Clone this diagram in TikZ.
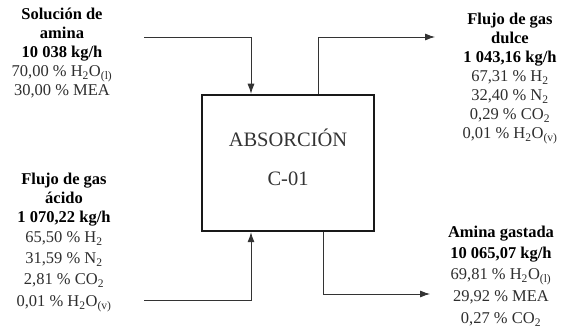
\documentclass[tikz,border=0pt]{standalone}
\usepackage{fontspec}
\setmainfont{Liberation Serif}
\usetikzlibrary{arrows.meta}

\begin{document}
\begin{tikzpicture}[
    x=1pt, y=-1pt,
    unit/.style={draw=black!90, line width=2.5pt, minimum width=172pt, minimum height=136pt,
      inner sep=0pt, align=center, text=black!80, font=\fontsize{20.5}{39}\selectfont},
    stream/.style={align=center, inner sep=0pt, anchor=north, text=black!82,
      font=\fontsize{16.5}{19}\selectfont},
    flow/.style={draw=black!80, line width=0.8pt, -{Latex[length=10pt, width=7pt]}},
  ]
  \useasboundingbox (0,0) rectangle (573,331);

  % --- Absorber ---
  \node[unit, text depth=12pt] (c01) at (288,163) {ABSORCI\'ON\\C-01};

  % --- Streams in ---
  \node[stream] (amina) at (62,8) {\textcolor{black}{\textbf{Soluci\'on de}}\\
    \textcolor{black}{\textbf{amina}}\\
    \textcolor{black}{\textbf{10 038 kg/h}}\\
    70,00 \% H\textsubscript{2}O\textsubscript{(l)}\\
    30,00 \% MEA};
  \node[stream] (acido) at (64,173) {\textcolor{black}{\textbf{Flujo de gas}}\\
    \textcolor{black}{\textbf{\'acido}}\\
    \textcolor{black}{\textbf{1 070,22 kg/h}}\\[1pt]
    65,50 \% H\textsubscript{2}\\[2pt]
    31,59 \% N\textsubscript{2}\\[2pt]
    2,81 \% CO\textsubscript{2}\\[3pt]
    0,01 \% H\textsubscript{2}O\textsubscript{(v)}};

  % --- Streams out ---
  \node[stream] (dulce) at (510,13) {\textcolor{black}{\textbf{Flujo de gas}}\\
    \textcolor{black}{\textbf{dulce}}\\
    \textcolor{black}{\textbf{1 043,16 kg/h}}\\
    67,31 \% H\textsubscript{2}\\
    32,40 \% N\textsubscript{2}\\
    0,29 \% CO\textsubscript{2}\\
    0,01 \% H\textsubscript{2}O\textsubscript{(v)}};
  \node[stream] (gastada) at (501,226) {\textcolor{black}{\textbf{Amina gastada}}\\[2pt]
    \textcolor{black}{\textbf{10 065,07 kg/h}}\\[2pt]
    69,81 \% H\textsubscript{2}O\textsubscript{(l)}\\[3pt]
    29,92 \% MEA\\[3pt]
    0,27 \% CO\textsubscript{2}};

  % --- Line ends ---
  \coordinate (ina) at (144,37);
  \coordinate (inb) at (144,300);
  \coordinate (outa) at (435,37);
  \coordinate (outb) at (430,294);

  % --- Connectors ---
  \draw[flow] (ina) -| ([xshift=-37pt]c01.north);
  \draw[flow] (inb) -| ([xshift=-37pt]c01.south);
  \draw[flow] ([xshift=30pt]c01.north) |- (outa);
  \draw[flow] ([xshift=35pt]c01.south) |- (outb);

\end{tikzpicture}
\end{document}
